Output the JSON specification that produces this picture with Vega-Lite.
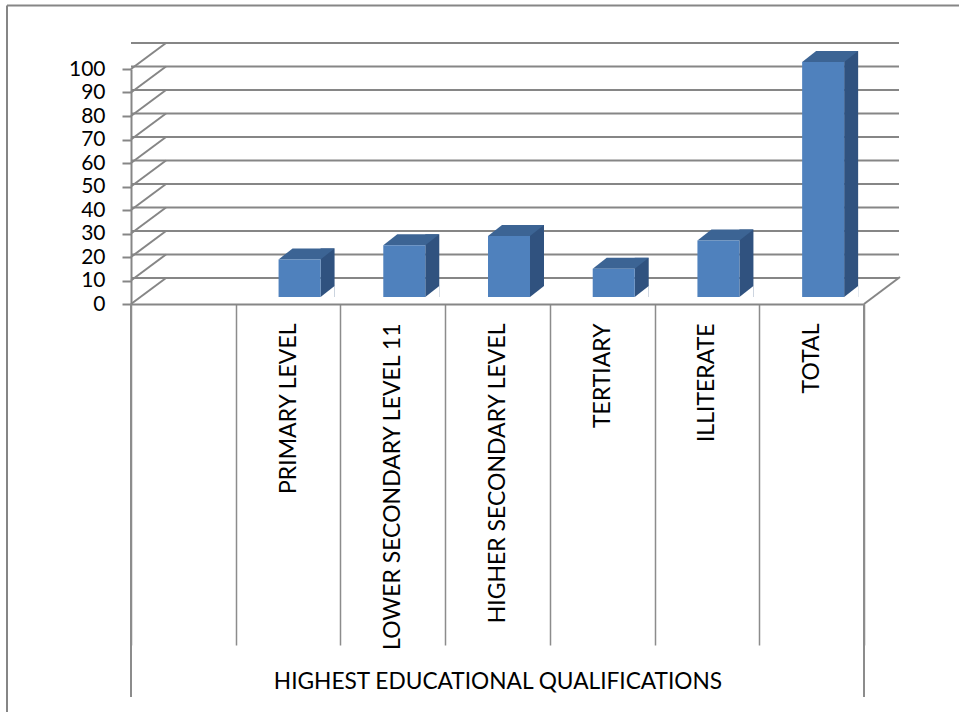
{
  "$schema": "https://vega.github.io/schema/vega-lite/v6.json",
  "width": 733,
  "height": 235,
  "autosize": {"type": "none"},
  "padding": {"left": 131, "top": 69, "right": 95, "bottom": 408},
  "background": "white",
  "config": {
    "view": {"stroke": null},
    "axisX": {
      "domainColor": "#868686", "domainWidth": 2,
      "tickBand": "extent", "tickSize": 341, "tickColor": "#8c8c8c", "tickWidth": 1.5,
      "labelAngle": -90, "labelAlign": "right", "labelBaseline": "middle",
      "labelPadding": -322, "labelLimit": 500,
      "labelFont": "Lato", "labelFontSize": 23, "labelColor": "#000000",
      "titleFont": "Lato", "titleFontSize": 22.7, "titleFontWeight": "normal",
      "titleColor": "#000000", "titleBaseline": "alphabetic", "titleY": 384
    },
    "axisY": {
      "grid": false,
      "domainColor": "#868686", "domainWidth": 2,
      "tickSize": 9, "tickColor": "#868686", "tickWidth": 2,
      "labelFont": "Lato", "labelFontSize": 21, "labelColor": "#000000", "labelPadding": 17
    }
  },
  "datasets": {
    "bars": [
      {"cat": "PRIMARY LEVEL", "value": 16},
      {"cat": "LOWER SECONDARY LEVEL 11", "value": 22},
      {"cat": "HIGHER SECONDARY LEVEL", "value": 26},
      {"cat": "TERTIARY", "value": 12},
      {"cat": "ILLITERATE", "value": 24},
      {"cat": "TOTAL", "value": 100}
    ],
    "grid": [
      {"v": 0}, {"v": 10}, {"v": 20}, {"v": 30}, {"v": 40}, {"v": 50},
      {"v": 60}, {"v": 70}, {"v": 80}, {"v": 90}, {"v": 100}
    ],
    "one": [{"k": 1}]
  },
  "layer": [
    {
      "data": {"name": "grid"},
      "mark": {"type": "rule", "color": "#868686", "strokeWidth": 2, "xOffset": 35, "yOffset": -26},
      "encoding": {
        "y": {"field": "v", "type": "quantitative", "scale": {"domain": [0, 100], "nice": false, "zero": false}, "title": null, "axis": {"values": [0, 10, 20, 30, 40, 50, 60, 70, 80, 90, 100]}}
      }
    },
    {
      "data": {"name": "grid"},
      "mark": {"type": "point", "shape": "M0,0L35,-26", "size": 4, "filled": false, "stroke": "#868686", "strokeWidth": 2, "opacity": 1},
      "encoding": {
        "x": {"datum": " ", "bandPosition": 0, "scale": {"domain": [" ", "PRIMARY LEVEL", "LOWER SECONDARY LEVEL 11", "HIGHER SECONDARY LEVEL", "TERTIARY", "ILLITERATE", "TOTAL"], "paddingInner": 0, "paddingOuter": 0}, "title": "HIGHEST EDUCATIONAL QUALIFICATIONS"},
        "y": {"field": "v", "type": "quantitative", "scale": {"domain": [0, 100], "nice": false, "zero": false}, "title": null, "axis": {"values": [0, 10, 20, 30, 40, 50, 60, 70, 80, 90, 100]}}
      }
    },
    {
      "data": {"name": "one"},
      "mark": {"type": "point", "shape": "M0,0L36,-27", "size": 4, "filled": false, "stroke": "#868686", "strokeWidth": 2, "opacity": 1},
      "encoding": {
        "x": {"datum": "TOTAL", "bandPosition": 1, "scale": {"domain": [" ", "PRIMARY LEVEL", "LOWER SECONDARY LEVEL 11", "HIGHER SECONDARY LEVEL", "TERTIARY", "ILLITERATE", "TOTAL"], "paddingInner": 0, "paddingOuter": 0}, "title": "HIGHEST EDUCATIONAL QUALIFICATIONS"},
        "y": {"datum": 0, "scale": {"domain": [0, 100], "nice": false, "zero": false}, "title": null, "axis": {"values": [0, 10, 20, 30, 40, 50, 60, 70, 80, 90, 100]}}
      }
    },
    {
      "data": {"name": "one"},
      "mark": {"type": "rule", "color": "#8c8c8c", "strokeWidth": 2},
      "encoding": {
        "x": {"datum": " ", "bandPosition": 0, "scale": {"domain": [" ", "PRIMARY LEVEL", "LOWER SECONDARY LEVEL 11", "HIGHER SECONDARY LEVEL", "TERTIARY", "ILLITERATE", "TOTAL"], "paddingInner": 0, "paddingOuter": 0}, "title": "HIGHEST EDUCATIONAL QUALIFICATIONS"},
        "y": {"datum": 0, "scale": {"domain": [0, 100], "nice": false, "zero": false}, "title": null, "axis": {"values": [0, 10, 20, 30, 40, 50, 60, 70, 80, 90, 100]}},
        "y2": {"datum": -167.2}
      }
    },
    {
      "data": {"name": "one"},
      "mark": {"type": "rule", "color": "#8c8c8c", "strokeWidth": 2},
      "encoding": {
        "x": {"datum": "TOTAL", "bandPosition": 1, "scale": {"domain": [" ", "PRIMARY LEVEL", "LOWER SECONDARY LEVEL 11", "HIGHER SECONDARY LEVEL", "TERTIARY", "ILLITERATE", "TOTAL"], "paddingInner": 0, "paddingOuter": 0}, "title": "HIGHEST EDUCATIONAL QUALIFICATIONS"},
        "y": {"datum": 0, "scale": {"domain": [0, 100], "nice": false, "zero": false}, "title": null, "axis": {"values": [0, 10, 20, 30, 40, 50, 60, 70, 80, 90, 100]}},
        "y2": {"datum": -167.2}
      }
    },
    {
      "data": {"name": "one"},
      "mark": {"type": "rule", "color": "#868686", "strokeWidth": 2, "xOffset": -124, "x2Offset": 200},
      "encoding": {
        "x": {"datum": " ", "bandPosition": 0, "scale": {"domain": [" ", "PRIMARY LEVEL", "LOWER SECONDARY LEVEL 11", "HIGHER SECONDARY LEVEL", "TERTIARY", "ILLITERATE", "TOTAL"], "paddingInner": 0, "paddingOuter": 0}, "title": "HIGHEST EDUCATIONAL QUALIFICATIONS"},
        "x2": {"datum": "TOTAL"},
        "y": {"datum": 127, "scale": {"domain": [0, 100], "nice": false, "zero": false}, "title": null, "axis": {"values": [0, 10, 20, 30, 40, 50, 60, 70, 80, 90, 100]}}
      }
    },
    {
      "data": {"name": "one"},
      "mark": {"type": "rule", "color": "#868686", "strokeWidth": 2, "xOffset": -124},
      "encoding": {
        "x": {"datum": " ", "bandPosition": 0, "scale": {"domain": [" ", "PRIMARY LEVEL", "LOWER SECONDARY LEVEL 11", "HIGHER SECONDARY LEVEL", "TERTIARY", "ILLITERATE", "TOTAL"], "paddingInner": 0, "paddingOuter": 0}, "title": "HIGHEST EDUCATIONAL QUALIFICATIONS"},
        "y": {"datum": 127, "scale": {"domain": [0, 100], "nice": false, "zero": false}, "title": null, "axis": {"values": [0, 10, 20, 30, 40, 50, 60, 70, 80, 90, 100]}},
        "y2": {"datum": -175}
      }
    },
    {
      "data": {"name": "bars"},
      "mark": {"type": "bar", "width": 14, "xOffset": 39.5, "yOffset": -18, "y2Offset": -7, "color": "#30527f"},
      "encoding": {
        "x": {"field": "cat", "type": "nominal", "sort": null, "scale": {"domain": [" ", "PRIMARY LEVEL", "LOWER SECONDARY LEVEL 11", "HIGHER SECONDARY LEVEL", "TERTIARY", "ILLITERATE", "TOTAL"], "paddingInner": 0, "paddingOuter": 0}, "title": "HIGHEST EDUCATIONAL QUALIFICATIONS"},
        "y": {"field": "value", "type": "quantitative", "stack": null, "scale": {"domain": [0, 100], "nice": false, "zero": false}, "title": null, "axis": {"values": [0, 10, 20, 30, 40, 50, 60, 70, 80, 90, 100]}},
        "y2": {"datum": 0}
      }
    },
    {
      "data": {"name": "bars"},
      "mark": {"type": "point", "shape": "M0,0L14,0L14,-11Z", "size": 4, "filled": true, "color": "white", "opacity": 1, "xOffset": 32.5, "yOffset": -7},
      "encoding": {
        "x": {"field": "cat", "type": "nominal", "sort": null, "scale": {"domain": [" ", "PRIMARY LEVEL", "LOWER SECONDARY LEVEL 11", "HIGHER SECONDARY LEVEL", "TERTIARY", "ILLITERATE", "TOTAL"], "paddingInner": 0, "paddingOuter": 0}, "title": "HIGHEST EDUCATIONAL QUALIFICATIONS"},
        "y": {"datum": 0, "scale": {"domain": [0, 100], "nice": false, "zero": false}, "title": null, "axis": {"values": [0, 10, 20, 30, 40, 50, 60, 70, 80, 90, 100]}}
      }
    },
    {
      "data": {"name": "bars"},
      "mark": {"type": "point", "shape": "M0,0L42,0L56,-11L14,-11Z", "size": 4, "filled": true, "color": "#3c6494", "opacity": 1, "xOffset": -9.5, "yOffset": -7},
      "encoding": {
        "x": {"field": "cat", "type": "nominal", "sort": null, "scale": {"domain": [" ", "PRIMARY LEVEL", "LOWER SECONDARY LEVEL 11", "HIGHER SECONDARY LEVEL", "TERTIARY", "ILLITERATE", "TOTAL"], "paddingInner": 0, "paddingOuter": 0}, "title": "HIGHEST EDUCATIONAL QUALIFICATIONS"},
        "y": {"field": "value", "type": "quantitative", "scale": {"domain": [0, 100], "nice": false, "zero": false}, "title": null, "axis": {"values": [0, 10, 20, 30, 40, 50, 60, 70, 80, 90, 100]}}
      }
    },
    {
      "data": {"name": "bars"},
      "mark": {"type": "bar", "width": 42, "xOffset": 11.5, "yOffset": -7, "y2Offset": -7, "color": "#4f81bd"},
      "encoding": {
        "x": {"field": "cat", "type": "nominal", "sort": null, "scale": {"domain": [" ", "PRIMARY LEVEL", "LOWER SECONDARY LEVEL 11", "HIGHER SECONDARY LEVEL", "TERTIARY", "ILLITERATE", "TOTAL"], "paddingInner": 0, "paddingOuter": 0}, "title": "HIGHEST EDUCATIONAL QUALIFICATIONS"},
        "y": {"field": "value", "type": "quantitative", "stack": null, "scale": {"domain": [0, 100], "nice": false, "zero": false}, "title": null, "axis": {"values": [0, 10, 20, 30, 40, 50, 60, 70, 80, 90, 100]}},
        "y2": {"datum": 0}
      }
    }
  ]
}
